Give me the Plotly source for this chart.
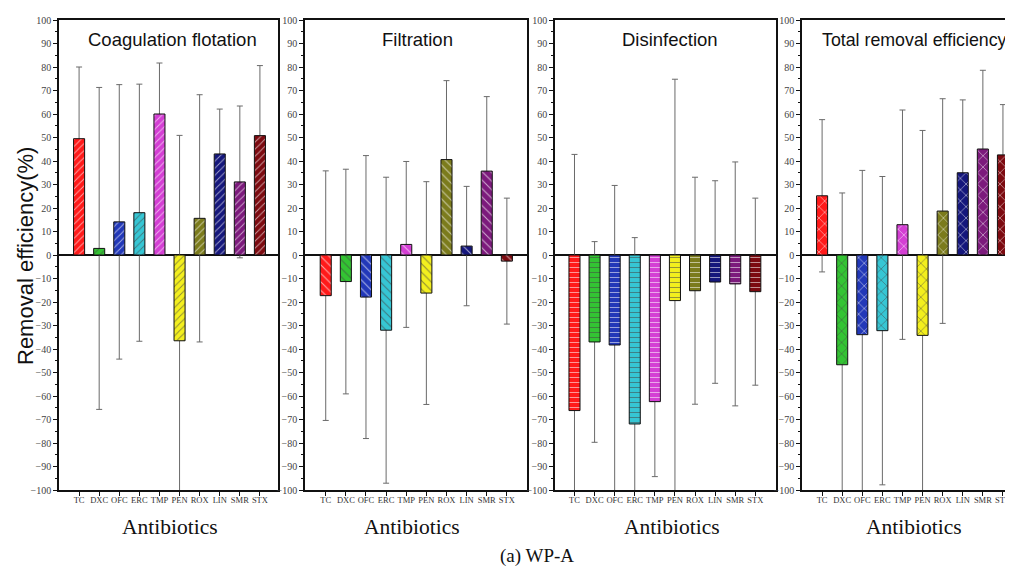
import plotly.graph_objects as go

categories = ["TC", "DXC", "OFC", "ERC", "TMP", "PEN", "ROX", "LIN", "SMR", "STX"]
colors = ["#ff1a1a", "#33c433", "#2238b8", "#36c6d4", "#d43fd4",
          "#f3ef1e", "#7b7b1c", "#15177c", "#7c1a7c", "#7c0a10"]

panel_titles = ["Coagulation flotation", "Filtration", "Disinfection", "Total removal efficiency"]

coag_mean = [49.5, 2.8, 14.1, 18.0, 60.0, -36.5, 15.6, 43.0, 31.1, 50.8]
coag_err = [30.5, 68.5, 58.4, 54.7, 21.7, 87.4, 52.6, 19.1, 32.3, 29.8]
filt_mean = [-17.3, -11.3, -17.9, -32.0, 4.5, -16.2, 40.6, 3.8, 35.7, -2.6]
filt_err = [53.1, 47.8, 60.2, 65.1, 35.3, 47.4, 33.6, 25.4, 31.7, 26.8]
dis_mean = [-66.2, -37.0, -38.3, -71.9, -62.4, -19.4, -15.2, -11.5, -12.3, -15.6]
dis_err = [109.0, 42.7, 67.9, 79.3, 31.9, 94.2, 48.3, 43.1, 51.9, 39.8]
tot_mean = [25.2, -46.7, -33.9, -32.2, 12.9, -34.2, 18.7, 35.0, 45.1, 42.6]
tot_err = [32.4, 73.1, 69.9, 65.6, 48.8, 87.2, 47.8, 31.0, 33.5, 21.4]

means = [coag_mean, filt_mean, dis_mean, tot_mean]
errs = [coag_err, filt_err, dis_err, tot_err]

# page body has an 8px margin: figure is drawn 8px right/down of the window corner
OFF = 8
W, H = 1013 - OFF, 569 - OFF


def px(x):
    return (x - OFF) / W


def py(y):
    return 1 - (y - OFF) / H


panels_px = [(59, 278), (305, 527), (555, 776), (802, 1013)]
xranges = [[-1.0, 9.9], [-1.03, 10.0], [-0.97, 10.03], [-1.0, 9.5]]
patterns = [dict(shape="/", size=5), dict(shape="\\", size=6),
            dict(shape="-", size=5), dict(shape="x", size=8)]
y_top, y_bot = 20, 490
ydom = [py(y_bot), py(y_top)]

fig = go.Figure()
serif = "Liberation Serif, Times New Roman, serif"
sans = "Liberation Sans, Arial, sans-serif"

for i in range(4):
    xa = "x" if i == 0 else f"x{i+1}"
    ya = "y" if i == 0 else f"y{i+1}"
    # error bars (drawn beneath the bars)
    fig.add_trace(go.Bar(
        x=categories, y=means[i], xaxis=xa, yaxis=ya, width=0.55,
        marker=dict(color="rgba(0,0,0,0)", line=dict(width=0)),
        error_y=dict(type="data", array=errs[i], symmetric=True,
                     color="#6a6a6a", thickness=1, width=3),
        showlegend=False, hoverinfo="skip"))
    fig.add_trace(go.Bar(
        x=categories, y=means[i], xaxis=xa, yaxis=ya, width=0.55,
        marker=dict(color=colors, line=dict(color="#111", width=1),
                    pattern=dict(shape=patterns[i]["shape"], size=patterns[i]["size"],
                                 solidity=0.18, fgcolor="#000", fgopacity=0.6,
                                 bgcolor=colors)),
        showlegend=False))

    x0, x1 = panels_px[i]
    dom = [px(x0), min(px(x1), 1.0)]
    xkey = "xaxis" if i == 0 else f"xaxis{i+1}"
    ykey = "yaxis" if i == 0 else f"yaxis{i+1}"
    fig.layout[xkey] = dict(
        domain=dom, anchor=ya, range=xranges[i], type="category",
        categoryorder="array", categoryarray=categories, automargin=False,
        showline=True, linecolor="#111", linewidth=1.5, mirror=True,
        ticks="outside", ticklen=4, tickcolor="#111", tickwidth=1, tickangle=0,
        ticklabelstandoff=-3,
        tickfont=dict(family=serif, size=8.5, color="#333"),
        showgrid=False, zeroline=False, fixedrange=True)
    fig.layout[ykey] = dict(
        domain=ydom, anchor=xa, range=[-100, 100], dtick=10, tick0=0, automargin=False,
        showline=True, linecolor="#111", linewidth=1.5, mirror=(i < 3),
        ticks="outside", ticklen=4, tickcolor="#111", tickwidth=1,
        minor=dict(dtick=5, ticks="outside", ticklen=2, tickcolor="#111"),
        tickfont=dict(family=serif, size=10, color="#444"),
        showgrid=False, zeroline=True, zerolinecolor="#111", zerolinewidth=1.5,
        fixedrange=True)

annotations = []
title_pos = [(172.5, "center", 18.5), (417, "center", 18.5),
             (670, "center", 18.5), (820, "left", 17.8)]
for i, t in enumerate(panel_titles):
    xp, anc, fs = title_pos[i]
    annotations.append(dict(text=t, x=px(xp), y=py(40), xref="paper", yref="paper",
                            xanchor=anc, yanchor="middle", showarrow=False,
                            font=dict(family=sans, size=fs, color="#111")))
antib_x = [170, 412, 672, 913.5]
for cx in antib_x:
    annotations.append(dict(text="Antibiotics", x=px(cx), y=py(527), xref="paper", yref="paper",
                            xanchor="center", yanchor="middle", showarrow=False,
                            font=dict(family=serif, size=21.5, color="#111")))
annotations.append(dict(text="Removal efficiency(%)", x=px(25), y=py(256), xref="paper", yref="paper",
                        xanchor="center", yanchor="middle", textangle=-90, showarrow=False,
                        font=dict(family=sans, size=22, color="#111")))
annotations.append(dict(text="(a) WP-A", x=px(498), y=py(556), xref="paper", yref="paper",
                        xanchor="left", yanchor="middle", showarrow=False,
                        font=dict(family=serif, size=19, color="#111")))

fig.update_layout(
    width=W, height=H, autosize=False,
    margin=dict(l=0, r=0, t=0, b=0, autoexpand=False),
    paper_bgcolor="white", plot_bgcolor="white",
    barmode="overlay", annotations=annotations, showlegend=False)

fig.write_html("out.html")
